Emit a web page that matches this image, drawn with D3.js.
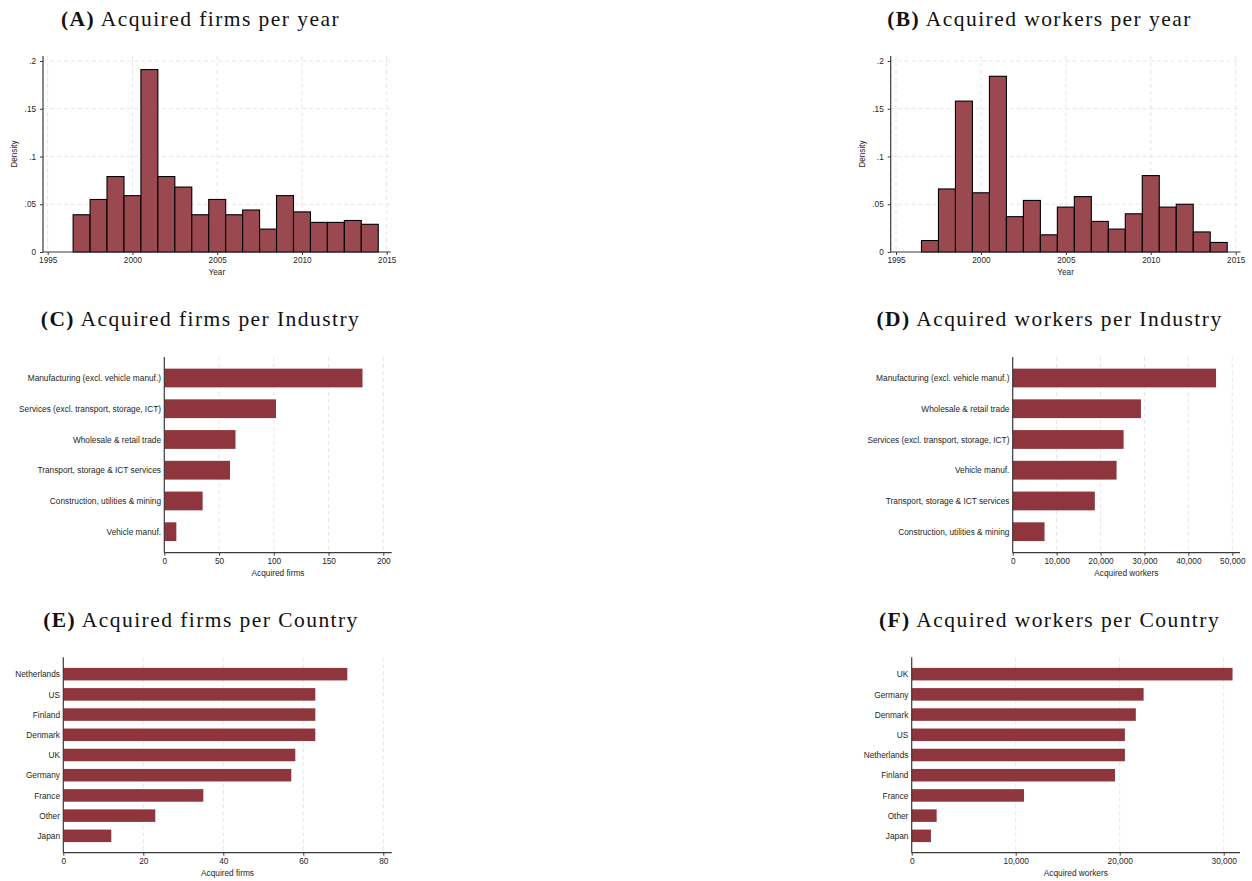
<!DOCTYPE html>
<html>
<head>
<meta charset="utf-8">
<script src="https://cdn.jsdelivr.net/npm/d3@7"></script>
<style>
  html, body { margin: 0; padding: 0; background: #fff; }
  svg { display: block; }
</style>
</head>
<body>
<svg id="chart" width="1252" height="881"></svg>
<script>
// ---------------- DATA ----------------
const years = [1997,1998,1999,2000,2001,2002,2003,2004,2005,2006,2007,2008,2009,2010,2011,2012,2013,2014];
const firmsDensity = [0.039,0.055,0.079,0.059,0.191,0.079,0.068,0.039,0.055,0.039,0.044,0.024,0.059,0.042,0.031,0.031,0.033,0.029];
const workersDensity = [0.012,0.066,0.158,0.062,0.184,0.037,0.054,0.018,0.047,0.058,0.032,0.024,0.040,0.080,0.047,0.050,0.021,0.010];
const yearTicks = [1995,2000,2005,2010,2015];
const densityTicks = [0,0.05,0.1,0.15,0.2];
const densityTickLabels = ["0",".05",".1",".15",".2"];

const industriesFirms = ["Manufacturing (excl. vehicle manuf.)","Services (excl. transport, storage, ICT)","Wholesale & retail trade","Transport, storage & ICT services","Construction, utilities & mining","Vehicle manuf."];
const firmsByIndustry = [181,102,65,60,35,11];
const firmsIndustryTicks = [0,50,100,150,200];

const industriesWorkers = ["Manufacturing (excl. vehicle manuf.)","Wholesale & retail trade","Services (excl. transport, storage, ICT)","Vehicle manuf.","Transport, storage & ICT services","Construction, utilities & mining"];
const workersByIndustry = [46300,29200,25250,23650,18700,7250];
const workersIndustryTicks = [0,10000,20000,30000,40000,50000];

const countriesFirms = ["Netherlands","US","Finland","Denmark","UK","Germany","France","Other","Japan"];
const firmsByCountry = [71,63,63,63,58,57,35,23,12];
const firmsCountryTicks = [0,20,40,60,80];

const countriesWorkers = ["UK","Germany","Denmark","US","Netherlands","Finland","France","Other","Japan"];
const workersByCountry = [30850,22300,21550,20500,20500,19550,10800,2400,1850];
const workersCountryTicks = [0,10000,20000,30000];

const titles = [
  {b:"(A)", t:" Acquired firms per year", cx:200.5, y:25.5},
  {b:"(B)", t:" Acquired workers per year", cx:1039.5, y:25.5},
  {b:"(C)", t:" Acquired firms per Industry", cx:200.5, y:326},
  {b:"(D)", t:" Acquired workers per Industry", cx:1049.5, y:326},
  {b:"(E)", t:" Acquired firms per Country", cx:201, y:626.5},
  {b:"(F)", t:" Acquired workers per Country", cx:1049.5, y:626.5}
];

// ---------------- STYLE ----------------
const histFill = "#9b4950";
const barFill = "#8e353e";
const axisColor = "#3a3a3a";
const gridColor = "#e6e6e6";
const textColor = "#1e1e1e";
const sans = "'Liberation Sans', Arial, sans-serif";
const serif = "'Liberation Serif', 'Times New Roman', serif";

const svg = d3.select("#chart");

// ---------------- TITLES ----------------
const titleG = svg.append("g");
const titleNodes = titles.map(d => {
  const t = titleG.append("text")
    .attr("x", d.cx).attr("y", d.y)
    .attr("text-anchor", "middle")
    .attr("font-family", serif)
    .attr("font-size", 21.5)
    .attr("fill", "#111");
  t.append("tspan").attr("font-weight", "bold").text(d.b);
  t.append("tspan").text(d.t);
  return t;
});
const t0 = titleNodes[0];
const w0 = t0.node().getComputedTextLength();
const n0 = (titles[0].b + titles[0].t).length;
const ls = Math.max(0, (279 - w0) / n0);
titleNodes.forEach(t => t.attr("letter-spacing", ls));

// ---------------- HISTOGRAMS ----------------
function histogram(cfg, values) {
  const g = svg.append("g");
  const x = d3.scaleLinear().domain([1995, 2015]).range([cfg.x0, cfg.x1]);
  const y = d3.scaleLinear().domain([0, 0.2]).range([cfg.yb, cfg.yt]);
  g.selectAll(".hg").data(densityTicks.slice(1)).join("line")
    .attr("x1", cfg.axL).attr("x2", cfg.axR)
    .attr("y1", d => y(d)).attr("y2", d => y(d))
    .attr("stroke", gridColor).attr("stroke-width", 1).attr("stroke-dasharray", "4,3");
  g.selectAll(".vg").data(yearTicks).join("line")
    .attr("x1", d => x(d)).attr("x2", d => x(d))
    .attr("y1", cfg.axTop).attr("y2", cfg.yb)
    .attr("stroke", gridColor).attr("stroke-width", 1).attr("stroke-dasharray", "4,3");
  g.selectAll(".bar").data(years).join("rect")
    .attr("x", d => x(d - 0.5)).attr("width", d => x(d + 0.5) - x(d - 0.5))
    .attr("y", (d, i) => y(values[i])).attr("height", (d, i) => y(0) - y(values[i]))
    .attr("fill", histFill).attr("stroke", "#000").attr("stroke-width", 1.1);
  const xa = g.append("g").attr("transform", `translate(0,${cfg.yb})`)
    .call(d3.axisBottom(x).tickValues(yearTicks).tickFormat(d3.format("d")).tickSize(3).tickPadding(2));
  const ya = g.append("g").attr("transform", `translate(${cfg.axL},0)`)
    .call(d3.axisLeft(y).tickValues(densityTicks).tickFormat((d, i) => densityTickLabels[i]).tickSize(3).tickPadding(4));
  [xa, ya].forEach(a => {
    a.select(".domain").remove();
    a.selectAll("line").attr("stroke", axisColor);
    a.selectAll("text").attr("font-family", sans).attr("font-size", 8.2).attr("fill", textColor);
  });
  g.append("line").attr("x1", cfg.axL).attr("x2", cfg.axR).attr("y1", cfg.yb).attr("y2", cfg.yb)
    .attr("stroke", axisColor).attr("stroke-width", 1.2);
  g.append("line").attr("x1", cfg.axL).attr("x2", cfg.axL).attr("y1", cfg.axTop).attr("y2", cfg.yb)
    .attr("stroke", axisColor).attr("stroke-width", 1.2);
  g.append("text").attr("x", (cfg.axL + cfg.axR) / 2).attr("y", cfg.yb + 22.5)
    .attr("text-anchor", "middle").attr("font-family", sans).attr("font-size", 8.2).attr("fill", textColor).text("Year");
  g.append("text").attr("transform", `translate(${cfg.axL - 26},${(cfg.axTop + cfg.yb) / 2}) rotate(-90)`)
    .attr("text-anchor", "middle").attr("font-family", sans).attr("font-size", 8.2).attr("fill", textColor).text("Density");
}

histogram({x0: 47.7, x1: 386.7, axL: 43, axR: 390.7, yb: 252, yt: 61, axTop: 56}, firmsDensity);
histogram({x0: 896, x1: 1235.7, axL: 890.7, axR: 1240.5, yb: 252, yt: 61, axTop: 56}, workersDensity);

// ---------------- HORIZONTAL BAR CHARTS ----------------
function hbar(cfg, cats, values, ticks, fmt, xlabel) {
  const g = svg.append("g");
  const x = d3.scaleLinear().domain([0, ticks[ticks.length - 1]]).range([cfg.axL, cfg.xMax]);
  const y = d3.scalePoint().domain(cats).range([cfg.axTop, cfg.yb]).padding(cfg.pad);
  const bh = y.step() * cfg.barFrac;
  g.selectAll(".vg").data(ticks.slice(1)).join("line")
    .attr("x1", d => x(d)).attr("x2", d => x(d))
    .attr("y1", cfg.axTop).attr("y2", cfg.yb)
    .attr("stroke", gridColor).attr("stroke-width", 1).attr("stroke-dasharray", "4,3");
  g.selectAll(".bar").data(cats).join("rect")
    .attr("x", x(0)).attr("width", (d, i) => x(values[i]) - x(0))
    .attr("y", d => y(d) - bh / 2).attr("height", bh)
    .attr("fill", barFill);
  const xa = g.append("g").attr("transform", `translate(0,${cfg.yb})`)
    .call(d3.axisBottom(x).tickValues(ticks).tickFormat(fmt).tickSize(3).tickPadding(2));
  const ya = g.append("g").attr("transform", `translate(${cfg.axL},0)`)
    .call(d3.axisLeft(y).tickSize(0).tickPadding(3.3));
  [xa, ya].forEach(a => {
    a.select(".domain").remove();
    a.selectAll("line").attr("stroke", axisColor);
    a.selectAll("text").attr("font-family", sans).attr("font-size", 8.3).attr("fill", textColor);
  });
  g.append("line").attr("x1", cfg.axL).attr("x2", cfg.axR).attr("y1", cfg.yb).attr("y2", cfg.yb)
    .attr("stroke", axisColor).attr("stroke-width", 1.2);
  g.append("line").attr("x1", cfg.axL).attr("x2", cfg.axL).attr("y1", cfg.axTop).attr("y2", cfg.yb)
    .attr("stroke", axisColor).attr("stroke-width", 1.2);
  g.append("text").attr("x", (cfg.axL + cfg.axR) / 2).attr("y", cfg.yb + 23)
    .attr("text-anchor", "middle").attr("font-family", sans).attr("font-size", 8.3).attr("fill", textColor).text(xlabel);
}

const comma = d3.format(",");
hbar({axL: 164.3, xMax: 383.3, axR: 391.7, axTop: 357, yb: 552.7, pad: 0.683, barFrac: 0.61},
  industriesFirms, firmsByIndustry, firmsIndustryTicks, d3.format("d"), "Acquired firms");
hbar({axL: 1012.7, xMax: 1232.3, axR: 1240, axTop: 357, yb: 552.7, pad: 0.683, barFrac: 0.61},
  industriesWorkers, workersByIndustry, workersIndustryTicks, comma, "Acquired workers");
hbar({axL: 63.3, xMax: 383.3, axR: 391.7, axTop: 657.3, yb: 852.7, pad: 0.834, barFrac: 0.62},
  countriesFirms, firmsByCountry, firmsCountryTicks, d3.format("d"), "Acquired firms");
hbar({axL: 911.7, xMax: 1223.7, axR: 1240, axTop: 657.3, yb: 852.7, pad: 0.834, barFrac: 0.62},
  countriesWorkers, workersByCountry, workersCountryTicks, comma, "Acquired workers");
</script>
</body>
</html>
